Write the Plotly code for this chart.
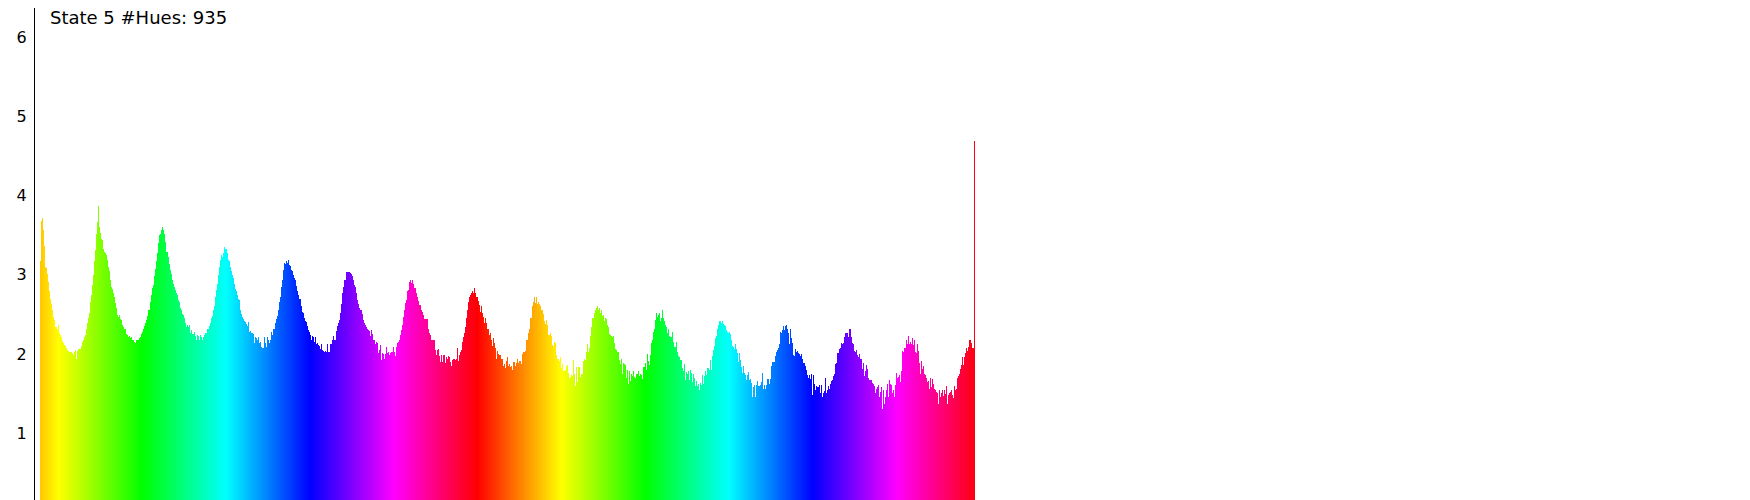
import colorsys

import plotly.graph_objects as go

# Bar heights per hue bin in six runs (935 bins total)
heights_a = [
    3.17, 3.68, 3.72, 3.57, 3.36, 3.10, 3.09, 3.01, 2.91, 2.79,
    2.69, 2.63, 2.55, 2.47, 2.43, 2.34, 2.34, 2.31, 2.36, 2.26,
    2.24, 2.21, 2.16, 2.14, 2.11, 2.10, 2.07, 2.05, 2.04, 2.03,
    2.02, 2.03, 2.01, 1.99, 2.02, 2.05, 1.94, 2.04, 2.06, 2.06,
    2.06, 2.10, 2.15, 2.18, 2.22, 2.24, 2.31, 2.39, 2.45, 2.52,
    2.66, 2.74, 2.87, 3.00, 3.17, 3.31, 3.52, 3.67, 3.87, 3.61,
    3.53, 3.45, 3.44, 3.33, 3.29, 3.28, 3.25, 3.19, 3.10, 3.05,
    2.93, 2.85, 2.82, 2.77, 2.72, 2.64, 2.58, 2.49, 2.47, 2.49,
    2.44, 2.43, 2.37, 2.34, 2.32, 2.31, 2.25, 2.24, 2.22, 2.23,
    2.20, 2.21, 2.18, 2.18, 2.15, 2.14, 2.17, 2.18, 2.17, 2.20,
    2.22, 2.25, 2.28, 2.32, 2.35, 2.39, 2.43, 2.48, 2.55, 2.55,
    2.66, 2.74, 2.83, 2.87, 2.98, 3.07, 3.17, 3.28, 3.40, 3.50,
    3.52, 3.57, 3.60, 3.57, 3.52, 3.42, 3.29, 3.29, 3.23, 3.14,
    3.06, 3.01, 2.93, 2.89, 2.85, 2.81, 2.77, 2.74, 2.68, 2.66,
    2.58, 2.56, 2.51, 2.49, 2.45, 2.39, 2.34, 2.37, 2.34, 2.37,
    2.26, 2.30, 2.25, 2.25,
]
heights_b = [
    2.28, 2.23, 2.17, 2.24, 2.23, 2.18, 2.24, 2.22, 2.18, 2.22,
    2.24, 2.26, 2.27, 2.31, 2.32, 2.35, 2.39, 2.45, 2.48, 2.55,
    2.61, 2.72, 2.81, 2.89, 3.00, 3.10, 3.19, 3.25, 3.23, 3.28,
    3.35, 3.32, 3.33, 3.27, 3.19, 3.17, 3.10, 3.05, 3.00, 2.96,
    2.89, 2.82, 2.79, 2.75, 2.70, 2.68, 2.56, 2.51, 2.47, 2.44,
    2.42, 2.40, 2.38, 2.35, 2.40, 2.28, 2.29, 2.26, 2.27, 2.25,
    2.14, 2.21, 2.20, 2.17, 2.21, 2.14, 2.15, 2.09, 2.08, 2.08,
    2.22, 2.14, 2.09, 2.22, 2.18, 2.14, 2.18, 2.28, 2.24, 2.31,
    2.32, 2.39, 2.44, 2.48, 2.55, 2.66, 2.72, 2.85, 2.93, 3.06,
    3.15, 3.14, 3.18, 3.15, 3.19, 3.12, 3.11, 3.06, 3.05, 3.00,
    2.96, 2.93, 2.86, 2.79, 2.75, 2.70, 2.69, 2.60, 2.53, 2.52,
    2.45, 2.41, 2.40, 2.35, 2.30, 2.28, 2.24, 2.18, 2.23, 2.22,
    2.15, 2.21, 2.13, 2.14, 2.11, 2.10, 2.06, 2.13, 2.05, 2.04,
    2.03, 2.04, 2.03, 2.13, 2.03, 2.03, 2.13, 2.13, 2.18, 2.23,
    2.17, 2.17, 2.29, 2.35, 2.39, 2.43, 2.52, 2.63, 2.77, 2.84,
    2.94, 2.94, 3.03, 3.04, 3.03, 3.03,
]
heights_c = [
    3.02, 3.01, 2.99, 2.93, 2.87, 2.85, 2.77, 2.68, 2.63, 2.58,
    2.56, 2.55, 2.51, 2.43, 2.39, 2.37, 2.34, 2.32, 2.30, 2.29,
    2.23, 2.30, 2.25, 2.18, 2.17, 2.13, 2.15, 2.14, 2.01, 2.05,
    2.11, 1.92, 2.01, 2.00, 1.93, 2.00, 2.09, 2.01, 2.03, 1.99,
    2.01, 2.02, 2.02, 2.09, 2.02, 1.97, 2.09, 2.14, 2.15, 2.18,
    2.24, 2.30, 2.37, 2.47, 2.55, 2.64, 2.68, 2.80, 2.81, 2.91,
    2.93, 2.90, 2.93, 2.88, 2.83, 2.83, 2.77, 2.72, 2.67, 2.62,
    2.62, 2.56, 2.53, 2.49, 2.44, 2.44, 2.44, 2.44, 2.31, 2.27,
    2.24, 2.18, 2.18, 2.18, 2.18, 2.05, 1.99, 2.05, 2.06, 1.97,
    1.90, 1.99, 1.90, 1.99, 1.99, 1.89, 1.96, 1.94, 1.97, 1.96,
    1.90, 1.85, 1.92, 1.93, 1.93, 1.92, 1.94, 2.08, 1.91, 1.99,
    2.02, 2.05, 2.15, 2.22, 2.27, 2.34, 2.45, 2.55, 2.65, 2.72,
    2.74, 2.77, 2.80, 2.77, 2.83, 2.77, 2.72, 2.72, 2.67, 2.62,
    2.53, 2.60, 2.52, 2.47, 2.39, 2.46, 2.39, 2.32, 2.31, 2.24,
    2.26, 2.18, 2.10, 2.20, 2.14, 2.07, 1.94, 2.04, 2.00, 1.99,
    1.99, 1.94, 1.93, 1.85, 1.87, 1.82,
]
heights_d = [
    1.91, 1.96, 1.85, 1.87, 1.83, 1.85, 1.80, 1.90, 1.90, 1.85,
    1.88, 1.93, 1.88, 1.91, 1.91, 1.87, 2.00, 2.02, 2.03, 2.04,
    2.18, 2.18, 2.27, 2.32, 2.46, 2.45, 2.61, 2.65, 2.72, 2.64,
    2.72, 2.63, 2.66, 2.63, 2.60, 2.55, 2.55, 2.51, 2.42, 2.38,
    2.43, 2.37, 2.24, 2.24, 2.26, 2.23, 2.11, 2.10, 2.15, 2.14,
    1.99, 1.93, 1.93, 1.91, 1.96, 1.82, 1.87, 1.79, 1.78, 1.80,
    1.85, 1.86, 1.76, 1.70, 1.71, 1.73, 1.72, 1.92, 1.74, 1.59,
    1.83, 1.65, 1.83, 1.84, 1.71, 1.74, 1.74, 1.91, 1.94, 1.92,
    2.03, 2.13, 2.03, 2.08, 2.23, 2.34, 2.45, 2.46, 2.52, 2.56,
    2.58, 2.61, 2.56, 2.58, 2.52, 2.55, 2.48, 2.49, 2.41, 2.45,
    2.44, 2.37, 2.34, 2.25, 2.24, 2.23, 2.21, 2.23, 2.14, 2.06,
    2.05, 2.03, 2.03, 1.92, 1.87, 1.94, 1.74, 1.88, 1.87, 1.86,
    1.69, 1.80, 1.62, 1.78, 1.66, 1.74, 1.72, 1.78, 1.71, 1.69,
    1.75, 1.74, 1.79, 1.72, 1.74, 1.73, 1.68, 1.83, 1.84, 1.88,
    1.80, 2.00, 1.91, 1.86, 1.99, 2.14, 2.17, 2.28, 2.31, 2.43,
    2.52, 2.47, 2.49, 2.52, 2.42, 2.45,
]
heights_e = [
    2.55, 2.45, 2.42, 2.36, 2.34, 2.26, 2.32, 2.23, 2.21, 2.21,
    2.28, 2.15, 2.09, 2.09, 2.15, 2.03, 1.97, 1.96, 1.92, 1.92,
    1.82, 1.79, 1.87, 1.67, 1.77, 1.75, 1.79, 1.67, 1.80, 1.76,
    1.64, 1.75, 1.69, 1.59, 1.66, 1.59, 1.62, 1.55, 1.63, 1.61,
    1.73, 1.62, 1.72, 1.79, 1.73, 1.82, 1.82, 1.80, 1.92, 1.80,
    1.97, 2.05, 2.10, 2.20, 2.23, 2.31, 2.36, 2.42, 2.42, 2.39,
    2.41, 2.38, 2.36, 2.35, 2.30, 2.28, 2.26, 2.28, 2.25, 2.18,
    2.10, 2.09, 2.06, 2.13, 2.06, 2.01, 1.90, 2.01, 1.92, 1.83,
    1.76, 1.85, 1.76, 1.73, 1.67, 1.73, 1.77, 1.67, 1.68, 1.63,
    1.46, 1.58, 1.61, 1.46, 1.61, 1.66, 1.59, 1.59, 1.61, 1.65,
    1.76, 1.56, 1.61, 1.56, 1.61, 1.68, 1.68, 1.62, 1.68, 1.85,
    1.90, 1.90, 1.90, 1.97, 2.03, 2.05, 2.07, 2.12, 2.28, 2.26,
    2.30, 2.35, 2.30, 2.35, 2.36, 2.31, 2.26, 2.13, 2.31, 2.20,
    2.14, 1.99, 1.97, 2.06, 2.03, 2.04, 2.01, 2.00, 1.97, 2.00,
    1.94, 1.89, 1.88, 1.85, 1.80, 1.73, 1.69, 1.73, 1.68, 1.75,
    1.48, 1.73, 1.62, 1.55, 1.59, 1.58, 1.58, 1.61, 1.50, 1.61,
    1.45, 1.51, 1.53, 1.69, 1.51, 1.54, 1.59, 1.56, 1.62, 1.66,
    1.67, 1.72, 1.75, 1.87, 1.89, 2.01, 2.01, 2.06, 2.07, 2.14,
    2.13, 2.14, 2.21, 2.26, 2.27, 2.26, 2.21, 2.31,
]
heights_f = [
    2.31, 2.21, 2.14, 2.12, 2.04, 2.02, 2.05, 1.99, 1.96, 2.00,
    1.93, 1.93, 1.81, 1.89, 1.72, 1.78, 1.86, 1.81, 1.69, 1.67,
    1.67, 1.67, 1.63, 1.62, 1.59, 1.50, 1.56, 1.58, 1.61, 1.46,
    1.52, 1.58, 1.30, 1.54, 1.37, 1.46, 1.55, 1.62, 1.46, 1.67,
    1.62, 1.61, 1.50, 1.54, 1.46, 1.61, 1.76, 1.69, 1.71, 1.73,
    1.64, 1.79, 2.04, 2.03, 2.08, 2.07, 2.18, 2.13, 2.23, 2.13,
    2.15, 2.12, 2.20, 2.11, 2.17, 2.02, 2.01, 2.12, 2.04, 1.88,
    1.75, 1.91, 1.81, 1.85, 1.75, 1.73, 1.70, 1.65, 1.66, 1.56,
    1.69, 1.58, 1.68, 1.62, 1.56, 1.55, 1.52, 1.50, 1.37, 1.54,
    1.45, 1.51, 1.54, 1.47, 1.55, 1.49, 1.59, 1.37, 1.48, 1.51,
    1.52, 1.54, 1.48, 1.44, 1.59, 1.54, 1.56, 1.70, 1.72, 1.75,
    1.81, 1.86, 1.96, 1.86, 1.96, 2.01, 2.07, 2.04, 2.09, 2.17,
    2.18, 2.14, 2.08, 2.07, 4.69,
]

y_ticks = [1, 2, 3, 4, 5, 6]
title_text = "State 5 #Hues: 935"

heights = heights_a + heights_b + heights_c + heights_d + heights_e + heights_f
bins = list(range(len(heights)))

# each bin is painted with its own hue (starts near orange, wraps twice)
HUE_START = 47.0
HUE_STEP = 0.716


def bin_colour(i):
    h = ((HUE_START + HUE_STEP * i) % 360.0) / 360.0
    r, g, b = colorsys.hsv_to_rgb(h, 1.0, 1.0)
    return f"rgb({round(r * 255)},{round(g * 255)},{round(b * 255)})"


colours = [bin_colour(i) for i in bins]

# the page body adds an 8px margin, so the figure is sized to fit what is left
FIG_W, FIG_H = 1742, 492

fig = go.Figure(
    go.Bar(
        x=bins,
        y=heights,
        marker=dict(color=colours, line=dict(width=0)),
        hoverinfo="skip",
    )
)

fig.update_layout(
    width=FIG_W,
    height=FIG_H,
    margin=dict(l=27, r=0, t=0, b=0),
    paper_bgcolor="white",
    plot_bgcolor="white",
    bargap=0,
    showlegend=False,
    font=dict(family="DejaVu Sans", size=16, color="#000000"),
    xaxis=dict(visible=False, range=[-5.5, 1709.5]),
    yaxis=dict(
        range=[0.153, 6.373],
        tickvals=y_ticks,
        showgrid=False,
        zeroline=False,
        showline=True,
        linecolor="#000000",
        linewidth=1,
        ticks="",
        ticklabelstandoff=4,
        tickfont=dict(family="DejaVu Sans", size=16, color="#000000"),
    ),
    annotations=[
        dict(
            text=title_text,
            xref="paper",
            yref="paper",
            x=13 / 1715,
            y=1 - 10 / FIG_H,
            xanchor="left",
            yanchor="middle",
            showarrow=False,
            font=dict(family="DejaVu Sans", size=18, color="#000000"),
        )
    ],
)

fig.write_html("out.html")
